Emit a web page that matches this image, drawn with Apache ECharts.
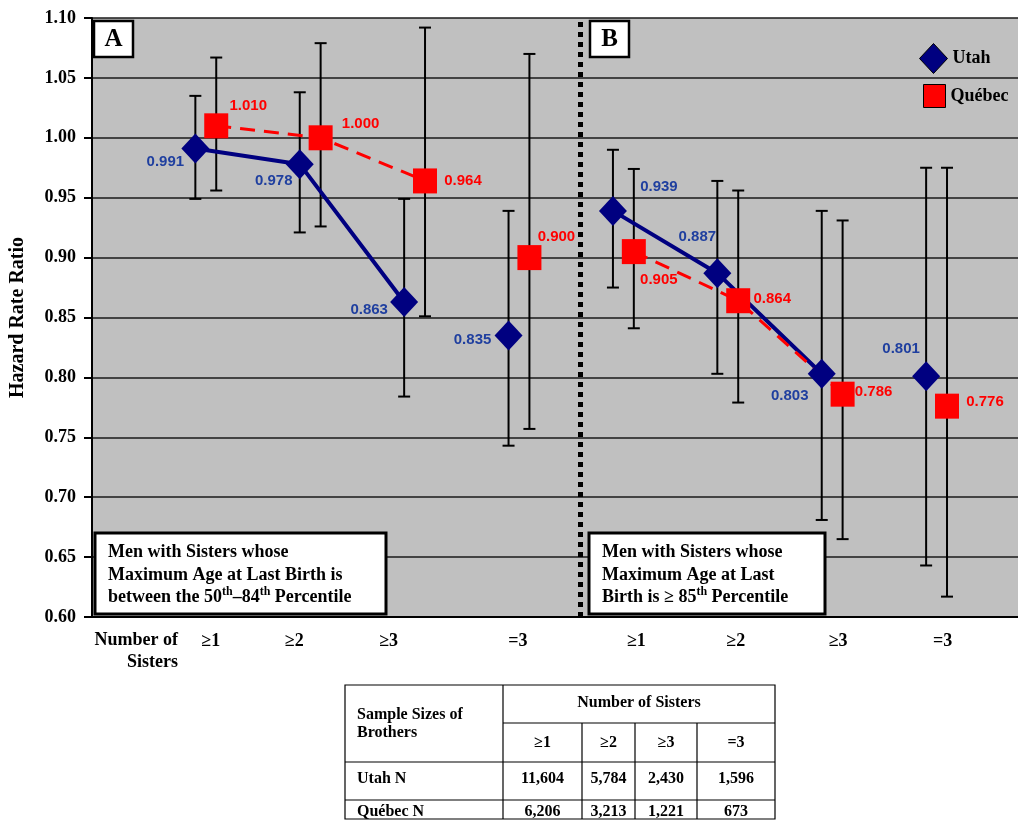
<!DOCTYPE html>
<html><head><meta charset="utf-8">
<script src="https://cdn.jsdelivr.net/npm/echarts@6/dist/echarts.min.js"></script>
<style>html,body{margin:0;padding:0;background:#fff}#c{width:1018px;height:820px}</style>
</head><body><div id="c"></div>
<script>
// ---------- data ----------
const categories = ['≥1', '≥2', '≥3', '=3'];
const panels = ['A', 'B'];
const seriesNames = ['Utah', 'Québec'];

const utahA      = [0.991, 0.978, 0.863, 0.835];
const utahLowA   = [0.949, 0.921, 0.784, 0.743];
const utahHighA  = [1.035, 1.038, 0.949, 0.939];
const quebecA     = [1.010, 1.000, 0.964, 0.900];
const quebecLowA  = [0.956, 0.926, 0.851, 0.757];
const quebecHighA = [1.067, 1.079, 1.092, 1.070];

const utahB      = [0.939, 0.887, 0.803, 0.801];
const utahLowB   = [0.875, 0.803, 0.681, 0.643];
const utahHighB  = [0.990, 0.964, 0.939, 0.975];
const quebecB     = [0.905, 0.864, 0.786, 0.776];
const quebecLowB  = [0.841, 0.779, 0.665, 0.617];
const quebecHighB = [0.974, 0.956, 0.931, 0.975];

const yMin = 0.60, yMax = 1.10, yStep = 0.05;
const axisTitle = 'Hazard Rate Ratio';
const xAxisTitle = 'Number of\nSisters';
const boxTextA = 'Men with Sisters whose\nMaximum Age at Last Birth is\nbetween the 50{sup|th}–84{sup|th} Percentile';
const boxTextB = 'Men with Sisters whose\nMaximum Age at Last\nBirth is ≥ 85{sup|th} Percentile';

const tableTitle = 'Sample Sizes of\nBrothers';
const tableHeader = 'Number of Sisters';
const tableCols = ['≥1', '≥2', '≥3', '=3'];
const tableRowNames = ['Utah N', 'Québec N'];
const utahN = ['11,604', '5,784', '2,430', '1,596'];
const quebecN = ['6,206', '3,213', '1,221', '673'];

// ---------- style ----------
const SERIF = 'Liberation Serif';
const SANS = 'Liberation Sans';
const NAVY = '#000080', RED = '#FF0000', BLUE_LBL = '#1F3F9F';
const SHIFT = 0.1;           // side-by-side offset of the two countries within a category
const DIVIDER = 3.59;        // panel separator position on the x scale
const utahLabelOff = [[-30, 13], [-26, 17], [-35, 8], [-36, 4], [46, -24], [-20, -36], [-32, 22], [-25, -27]];
const quebecLabelOff = [[32, -20], [40, -14], [38, 0], [27, -21], [25, 28], [34, -2], [31, -2], [38, -4]];
const catLabelNudge = [5, -16, -26, -1, 13, 8, 6, 6];

const utah = { vals: [utahA, utahB], low: [utahLowA, utahLowB], high: [utahHighA, utahHighB] };
const quebec = { vals: [quebecA, quebecB], low: [quebecLowA, quebecLowB], high: [quebecHighA, quebecHighB] };

function pos(p, i) { return p * 4 + i; }

const errData = [];
[[utah, -SHIFT], [quebec, SHIFT]].forEach(([c, sh]) => {
  for (let p = 0; p < 2; p++) for (let i = 0; i < 4; i++)
    errData.push([pos(p, i) + sh, c.low[p][i], c.high[p][i]]);
});

function labelCfg(color) {
  return { show: true, position: 'inside', color, fontFamily: SANS, fontWeight: 'bold', fontSize: 15,
           formatter: p => p.value[1].toFixed(3) };
}

function countrySeries(name, c, sh, color, symbol, size, lineStyle, lblColor, offs) {
  const out = [];
  for (let p = 0; p < 2; p++) {
    const pts = c.vals[p].map((v, i) => ({ value: [pos(p, i) + sh, v], label: { offset: offs[p * 4 + i] } }));
    out.push({ name, type: 'line', data: pts.slice(0, 3), symbol, symbolSize: size, showSymbol: true,
      itemStyle: { color, opacity: 1 }, lineStyle, label: labelCfg(lblColor), z: 3, silent: true, animation: false });
    out.push({ name, type: 'scatter', data: pts.slice(3), symbol, symbolSize: size,
      itemStyle: { color, opacity: 1 }, label: labelCfg(lblColor), z: 3, silent: true, animation: false });
  }
  return out;
}

const series = [
  { type: 'custom', name: 'err', z: 1, silent: true, animation: false,
    data: errData, encode: { x: 0, y: [1, 2] },
    renderItem(params, api) {
      const x = api.value(0);
      const t = api.coord([x, api.value(2)]);
      const b = api.coord([x, api.value(1)]);
      const hw = 6, st = { stroke: '#000', lineWidth: 2 };
      return { type: 'group', children: [
        { type: 'line', shape: { x1: t[0], y1: t[1], x2: b[0], y2: b[1] }, style: st },
        { type: 'line', shape: { x1: t[0] - hw, y1: t[1], x2: t[0] + hw, y2: t[1] }, style: st },
        { type: 'line', shape: { x1: b[0] - hw, y1: b[1], x2: b[0] + hw, y2: b[1] }, style: st }
      ]};
    },
    markLine: { silent: true, symbol: 'none', label: { show: false },
      lineStyle: { color: '#000', width: 5, type: [5, 5], cap: 'butt' },
      data: [{ xAxis: DIVIDER }] }
  },
  ...countrySeries(seriesNames[0], utah, -SHIFT, NAVY, 'diamond', [28, 30],
    { color: NAVY, width: 4 }, BLUE_LBL, utahLabelOff),
  ...countrySeries(seriesNames[1], quebec, SHIFT, RED, 'rect', [24, 25],
    { color: RED, width: 3, type: [15, 9] }, RED, quebecLabelOff)
];

const legendText = { fontFamily: SERIF, fontWeight: 'bold', fontSize: 18, color: '#000' };

const chart = echarts.init(document.getElementById('c'), null, { renderer: 'canvas' });
chart.setOption({
  animation: false,
  backgroundColor: '#fff',
  grid: { left: 91, right: 0, top: 18, bottom: 203, show: true, backgroundColor: '#C0C0C0', borderWidth: 0 },
  xAxis: { type: 'value', min: -1.09, max: 7.78,
    axisLine: { show: true, onZero: false, lineStyle: { color: '#000', width: 2 } },
    axisTick: { show: false }, axisLabel: { show: false }, splitLine: { show: false } },
  yAxis: { type: 'value', min: yMin, max: yMax, interval: yStep,
    name: axisTitle, nameLocation: 'middle', nameGap: 64, nameRotate: 90,
    nameTextStyle: { fontFamily: SERIF, fontWeight: 'bold', fontSize: 20, color: '#000' },
    axisLine: { show: true, onZero: false, lineStyle: { color: '#000', width: 2 } },
    axisTick: { show: true, length: 8, lineStyle: { color: '#000', width: 2 } },
    axisLabel: { margin: 16, formatter: v => v.toFixed(2), fontFamily: SERIF, fontWeight: 'bold', fontSize: 18, color: '#000' },
    splitLine: { show: true, lineStyle: { color: '#1a1a1a', width: 1.5 } } },
  legend: [
    { data: [{ name: seriesNames[0], icon: 'diamond', itemStyle: { borderColor: '#000', borderWidth: 1 } }],
      left: 914, top: 38, itemWidth: 28, itemHeight: 30, selectedMode: false, textStyle: legendText },
    { data: [{ name: seriesNames[1], icon: 'rect', itemStyle: { borderColor: '#000', borderWidth: 1 } }],
      left: 918, top: 79, itemWidth: 22, itemHeight: 23, selectedMode: false, textStyle: legendText }
  ],
  series
});

// ---------- annotations ----------
const g = [];
const serifBold = (size) => ({ fontFamily: SERIF, fontWeight: 'bold', fontSize: size, fill: '#000' });

// category labels under the axis
for (let p = 0; p < 2; p++) for (let i = 0; i < 4; i++) {
  const px = chart.convertToPixel({ xAxisIndex: 0 }, pos(p, i));
  g.push({ type: 'text', x: px + catLabelNudge[p * 4 + i], y: 641, silent: true,
    style: Object.assign({ text: categories[i], align: 'center', verticalAlign: 'middle' }, serifBold(18)) });
}
g.push({ type: 'text', x: 178, y: 651, silent: true,
  style: Object.assign({ text: xAxisTitle, align: 'right', verticalAlign: 'middle', lineHeight: 22 }, serifBold(18)) });

// panel letters
[[94, 'A'], [590, 'B']].forEach(([x, t], k) => {
  g.push({ type: 'rect', shape: { x: x, y: 21, width: 39, height: 36 }, silent: true,
    style: { fill: '#fff', stroke: '#000', lineWidth: 2.5 } });
  g.push({ type: 'text', x: x + 19.5, y: 40, silent: true,
    style: Object.assign({ text: panels[k], align: 'center', verticalAlign: 'middle' }, serifBold(25)) });
});

// description boxes
[[95, 291, boxTextA], [589, 236, boxTextB]].forEach(([x, w, txt]) => {
  g.push({ type: 'rect', shape: { x: x, y: 533, width: w, height: 81 }, silent: true,
    style: { fill: '#fff', stroke: '#000', lineWidth: 3 } });
  g.push({ type: 'text', x: x + 13, y: 575, silent: true,
    style: Object.assign({ text: txt, align: 'left', verticalAlign: 'middle', lineHeight: 22.5,
      rich: { sup: { fontFamily: SERIF, fontWeight: 'bold', fontSize: 12, verticalAlign: 'top', lineHeight: 13 } } },
      serifBold(18)) });
});

// sample size table
const tX = [345, 503, 582, 635, 697, 775];
const tY = [685, 723, 762, 800, 819];
const ln = (x1, y1, x2, y2) => g.push({ type: 'line', silent: true, shape: { x1, y1, x2, y2 },
  style: { stroke: '#000', lineWidth: 1.2 } });
g.push({ type: 'rect', silent: true, shape: { x: tX[0], y: tY[0], width: tX[5] - tX[0], height: tY[4] - tY[0] },
  style: { fill: '#fff', stroke: '#000', lineWidth: 1.2 } });
ln(tX[1], tY[1], tX[5], tY[1]);
ln(tX[0], tY[2], tX[5], tY[2]);
ln(tX[0], tY[3], tX[5], tY[3]);
ln(tX[1], tY[0], tX[1], tY[4]);
for (let k = 2; k <= 4; k++) ln(tX[k], tY[1], tX[k], tY[4]);
const tFont = serifBold(16);
g.push({ type: 'text', x: 357, y: 724, silent: true,
  style: Object.assign({ text: tableTitle, align: 'left', verticalAlign: 'middle', lineHeight: 18 }, tFont) });
g.push({ type: 'text', x: (tX[1] + tX[5]) / 2, y: 703, silent: true,
  style: Object.assign({ text: tableHeader, align: 'center', verticalAlign: 'middle' }, tFont) });
const rowsN = [utahN, quebecN];
for (let c = 0; c < 4; c++) {
  const cx = (tX[c + 1] + tX[c + 2]) / 2;
  g.push({ type: 'text', x: cx, y: 743, silent: true,
    style: Object.assign({ text: tableCols[c], align: 'center', verticalAlign: 'middle' }, tFont) });
  rowsN.forEach((row, r) => g.push({ type: 'text', x: cx, y: [779, 812][r], silent: true,
    style: Object.assign({ text: row[c], align: 'center', verticalAlign: 'middle' }, tFont) }));
}
tableRowNames.forEach((n, r) => g.push({ type: 'text', x: 357, y: [779, 812][r], silent: true,
  style: Object.assign({ text: n, align: 'left', verticalAlign: 'middle' }, tFont) }));

chart.setOption({ graphic: g });
</script>
</body></html>
